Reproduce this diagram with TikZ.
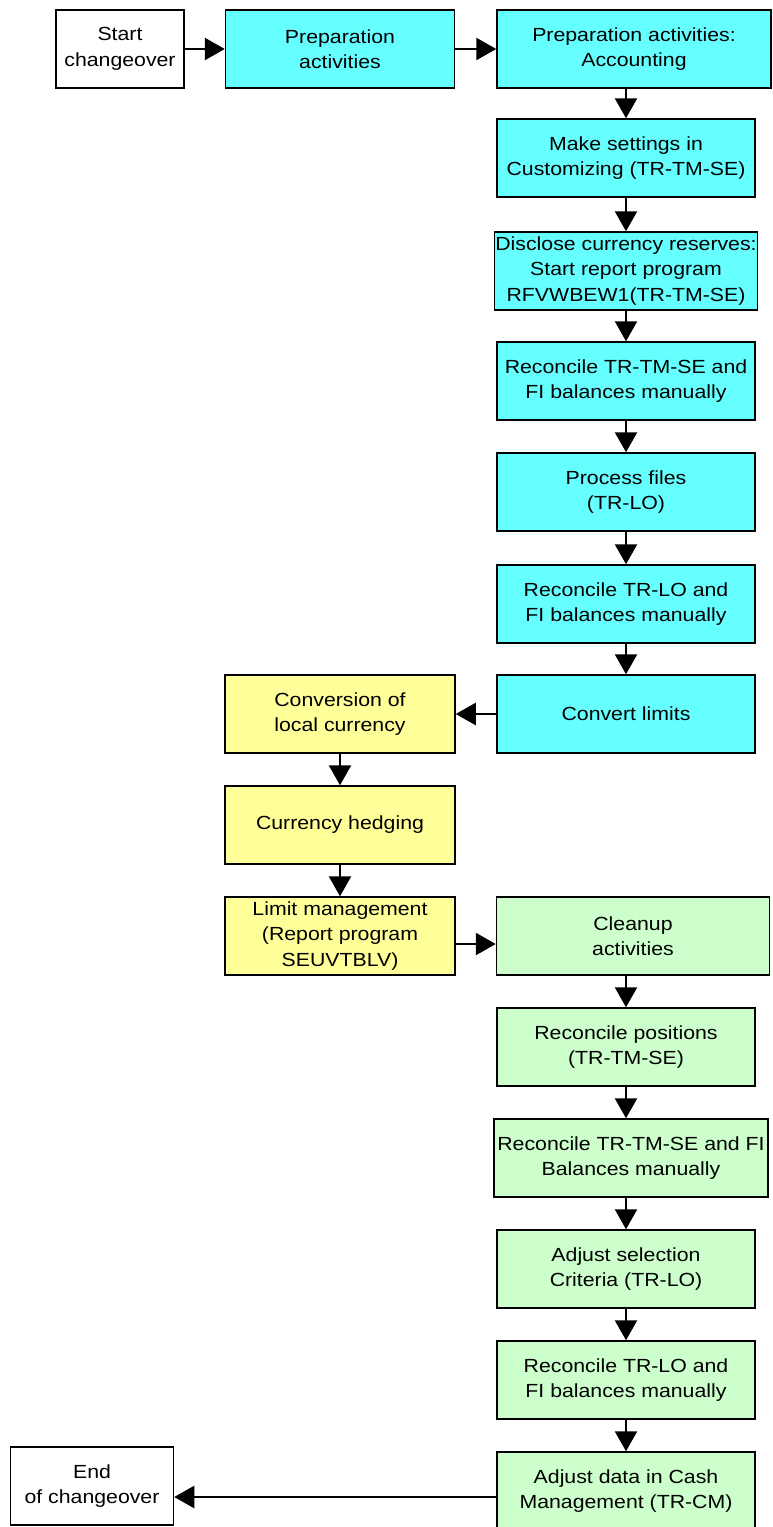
\documentclass[tikz,border=0pt]{standalone}
\usepackage{fontspec}
\setmainfont{Liberation Sans}[FakeStretch=1.12]
\usetikzlibrary{arrows.meta}
\definecolor{prepcol}{HTML}{66FFFF}
\definecolor{convcol}{HTML}{FFFF99}
\definecolor{cleancol}{HTML}{CCFFCC}

\begin{document}
\begin{tikzpicture}
  [x=1pt,y=-1pt,every node/.style={rectangle, draw=black, line width=1.5pt, minimum height=78pt, align=center, inner sep=1pt, font=\fontsize{19}{25.5}\selectfont},
   prep/.style={fill=prepcol}, conv/.style={fill=convcol}, clean/.style={fill=cleancol}]
  \useasboundingbox (0,0) rectangle (772,1527);

  \node [minimum width=128pt] (start) at (120,49) {Start\\changeover};
  \node [prep, minimum width=229pt] (prepact) at (340,49) {Preparation\\activities};
  \node [prep, minimum width=274pt] (prepacc) at (634,49) {Preparation activities:\\Accounting};
  \node [prep, minimum width=258pt] (settings) at (626,158) {Make settings in\\Customizing (TR-TM-SE)};
  \node [prep, minimum width=262pt] (disclose) at (626,271) {Disclose currency reserves:\\Start report program\\RFVWBEW1(TR-TM-SE)};
  \node [prep, minimum width=258pt] (recse) at (626,381) {Reconcile TR-TM-SE and\\FI balances manually};
  \node [prep, minimum width=258pt] (files) at (626,492) {Process files\\(TR-LO)};
  \node [prep, minimum width=258pt] (reclo) at (626,604) {Reconcile TR-LO and\\FI balances manually};
  \node [prep, minimum width=258pt] (limits) at (626,714) {Convert limits};

  \node [conv, minimum width=230pt] (local) at (340,714) {Conversion of\\local currency};
  \node [conv, minimum width=230pt] (hedge) at (340,825) {Currency hedging};
  \node [conv, minimum width=230pt] (limitmgmt) at (340,936) {Limit management\\(Report program\\SEUVTBLV)};

  \node [clean, minimum width=273pt] (cleanup) at (633,936) {Cleanup\\activities};
  \node [clean, minimum width=258pt] (positions) at (626,1047) {Reconcile positions\\(TR-TM-SE)};
  \node [clean, minimum width=274pt] (recsefi) at (631,1158) {Reconcile TR-TM-SE and FI\\Balances manually};
  \node [clean, minimum width=258pt] (criteria) at (626,1269) {Adjust selection\\Criteria (TR-LO)};
  \node [clean, minimum width=258pt] (reclofi) at (626,1380) {Reconcile TR-LO and\\FI balances manually};
  \node [clean, minimum width=258pt] (cash) at (626,1491) {Adjust data in Cash\\Management (TR-CM)};
  \node [minimum width=163pt] (finish) at (92,1486) {End\\of changeover};

  \path [-{Triangle[length=20pt,width=22pt]}] [line width=2.5pt]
  (start) edge (prepact)
  (prepact) edge (prepacc)
  (prepacc.south -| settings.north) edge (settings.north)
  (settings) edge (disclose)
  (disclose) edge (recse)
  (recse) edge (files)
  (files) edge (reclo)
  (reclo) edge (limits)
  (limits) edge (local)
  (local) edge (hedge)
  (hedge) edge (limitmgmt)
  ([yshift=-8pt]limitmgmt.east) edge ([yshift=-8pt]limitmgmt.east -| cleanup.west)
  (cleanup.south -| positions.north) edge (positions.north)
  (positions) edge (recsefi.north -| positions.north)
  (recsefi.south -| criteria.north) edge (criteria.north)
  (criteria) edge (reclofi)
  (reclofi) edge (cash)
  ([yshift=-6pt]cash.west) edge ([yshift=-6pt]cash.west -| finish.east);

\end{tikzpicture}
\end{document}
